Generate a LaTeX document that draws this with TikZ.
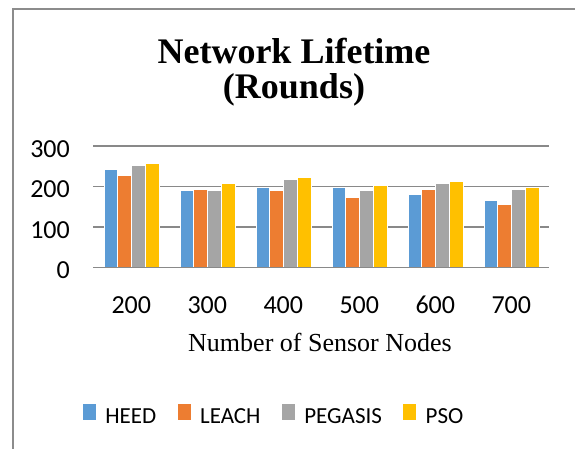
\documentclass[tikz,border=0pt]{standalone}
\usepackage{fontspec}
\setmainfont{Liberation Serif}
\newfontfamily\chartfont{Carlito}
\usepackage{tikz}
\usetikzlibrary{positioning}
\definecolor{heed}{HTML}{5B9BD5}
\definecolor{leach}{HTML}{ED7D31}
\definecolor{pegasis}{HTML}{A5A5A5}
\definecolor{pso}{HTML}{FFC000}
\definecolor{gridgray}{HTML}{898989}
\definecolor{framegray}{HTML}{8C8C8C}

\begin{document}
\begin{tikzpicture}[x=1pt, y=-1pt,
    tick/.style={font=\chartfont\fontsize{26}{30}\selectfont, inner sep=0pt},
    bar/.style={draw=white, line width=0.5pt},
    gridline/.style={draw=gridgray, line width=1.5pt},
    key/.style={rectangle, minimum width=13pt, minimum height=16pt, inner sep=0pt},
    keytext/.style={font=\chartfont\fontsize{23}{27}\selectfont, inner sep=0pt, text height=22.6pt, text depth=0pt}
]
    \useasboundingbox (0,0) rectangle (575,448);
    % chart frame
    \draw[framegray, line width=2pt] (13,449) -- (13,9) -- (576,9);

    % title
    \node[font=\bfseries\fontsize{36}{40}\selectfont, anchor=base] (title1) at (294,63) {Network Lifetime};
    \node[font=\bfseries\fontsize{36}{40}\selectfont, anchor=base] (title2) at (294,98) {(Rounds)};

    % value axis, gridlines and bars
    \begin{scope}[shift={(0,267.5)}, yscale=-0.405]
        \foreach \v in {100,200,300}
            \draw[gridline] (93.3,\v) -- (549.3,\v);
        \foreach \v in {0,100,200,300}
            \node[tick, anchor=east, yshift=-3pt] (y\v) at (70,\v) {\v};
        \foreach \i/\a/\b/\c/\d in {0/243/228/253/258, 1/190/194/190/209, 2/199/190/219/224,
                                     3/199/174/190/204, 4/180/194/209/214, 5/165/155/194/199} {
            \pgfmathsetmacro\bx{103.8+76*\i}
            \filldraw[bar, fill=heed]    (\bx,0) rectangle ++(13.75,\a);
            \filldraw[bar, fill=leach]   (\bx+13.75,0) rectangle ++(13.75,\b);
            \filldraw[bar, fill=pegasis] (\bx+27.5,0) rectangle ++(13.75,\c);
            \filldraw[bar, fill=pso]     (\bx+41.25,0) rectangle ++(13.75,\d);
        }
        \draw[gridline] (93.3,0) -- (549.3,0);
    \end{scope}

    % category axis
    \foreach \n [count=\i from 0] in {200,300,400,500,600,700}
        \node[tick] (x\n) at ({131.3+76*\i},305) {\n};
    \node[font=\fontsize{26}{30}\selectfont, anchor=base] (xtitle) at (320,351.7) {Number of Sensor Nodes};

    % legend
    \node[key, fill=heed] (kheed) at (89.5,412) {};
    \node[keytext, right=9pt of kheed] (lheed) {HEED};
    \node[key, fill=leach, right=21pt of lheed] (kleach) {};
    \node[keytext, right=9pt of kleach] (lleach) {LEACH};
    \node[key, fill=pegasis, right=21pt of lleach] (kpegasis) {};
    \node[keytext, right=9pt of kpegasis] (lpegasis) {PEGASIS};
    \node[key, fill=pso, right=21pt of lpegasis] (kpso) {};
    \node[keytext, right=9pt of kpso] (lpso) {PSO};
\end{tikzpicture}
\end{document}
